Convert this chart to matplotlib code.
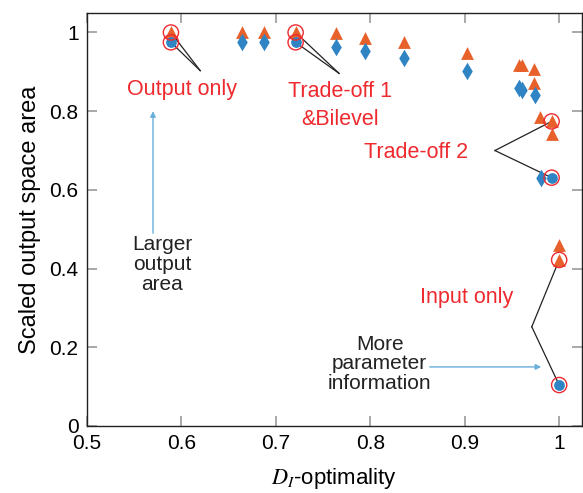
import matplotlib
matplotlib.use("Agg")
import matplotlib.pyplot as plt

plt.rcParams['font.family'] = ['Liberation Sans', 'DejaVu Sans']
plt.rcParams['mathtext.fontset'] = 'stix'

# output area for each design (triangles) and the second metric (diamonds)
tri_x = [0.589, 0.664, 0.688, 0.721, 0.764, 0.794, 0.836, 0.902, 0.957, 0.961,
         0.973, 0.973, 0.980, 0.992, 0.992, 1.000, 1.000]
tri_y = [1.000, 1.000, 1.000, 1.000, 0.998, 0.985, 0.975, 0.949, 0.918, 0.918,
         0.908, 0.872, 0.786, 0.774, 0.743, 0.460, 0.422]
dia_x = [0.664, 0.688, 0.764, 0.794, 0.836, 0.902, 0.957, 0.961, 0.974, 0.981]
dia_y = [0.975, 0.975, 0.962, 0.954, 0.934, 0.901, 0.860, 0.855, 0.842, 0.631]

# highlighted designs
hl_tri_x = [0.589, 0.721, 0.992, 1.000]
hl_tri_y = [1.000, 1.000, 0.774, 0.422]
hl_dot_x = [0.589, 0.721, 0.992, 1.000]
hl_dot_y = [0.975, 0.975, 0.631, 0.104]

orange = '#e8602a'
blue = '#2f84c4'
red = '#ee2a2f'
lightblue = '#6aaedc'

fig = plt.figure(figsize=(5.83, 4.93), dpi=100)
ax = fig.add_axes([0.149, 0.136, 0.849, 0.838])

ax.scatter(tri_x, tri_y, marker='^', s=85, color=orange, zorder=3, linewidths=0)
ax.scatter(dia_x, dia_y, marker='d', s=80, color=blue, zorder=3, linewidths=0)
ax.scatter(hl_tri_x, hl_tri_y, marker='^', s=55, color=orange, zorder=3, linewidths=0)
ax.scatter(hl_dot_x, hl_dot_y, marker='o', s=60, color=blue, zorder=3, linewidths=0)
ax.scatter(hl_tri_x + hl_dot_x, hl_tri_y + hl_dot_y, marker='o', s=120,
           facecolors='none', edgecolors=red, linewidths=1.0, zorder=4)

# leader lines from labels to highlighted points
def leader(x0, y0, pts):
    for px, py in pts:
        ax.plot([x0, px], [y0, py], color='#222222', lw=0.9, zorder=2)

leader(0.620, 0.903, [(hl_tri_x[0], hl_tri_y[0]), (hl_dot_x[0], hl_dot_y[0])])
leader(0.767, 0.896, [(hl_tri_x[1], hl_tri_y[1]), (hl_dot_x[1], hl_dot_y[1])])
leader(0.932, 0.700, [(hl_tri_x[2], hl_tri_y[2]), (hl_dot_x[2], hl_dot_y[2])])
leader(0.971, 0.252, [(hl_tri_x[3], hl_tri_y[3]), (hl_dot_x[3], hl_dot_y[3])])

fs = 15
ax.text(0.601, 0.855, 'Output only', color=red, fontsize=fs + 0.5, ha='center', va='center')
ax.text(0.768, 0.850, 'Trade-off 1', color=red, fontsize=fs + 0.5, ha='center', va='center')
ax.text(0.768, 0.780, '&Bilevel', color=red, fontsize=fs + 0.5, ha='center', va='center')
ax.text(0.849, 0.695, 'Trade-off 2', color=red, fontsize=fs + 0.5, ha='center', va='center')
ax.text(0.902, 0.327, 'Input only', color=red, fontsize=fs + 0.5, ha='center', va='center')

ax.text(0.580, 0.410, 'Larger\noutput\narea', color='#222222', fontsize=fs,
        ha='center', va='center', linespacing=1.05)
ax.text(0.810, 0.158, 'More\nparameter\ninformation', color='#222222', fontsize=fs,
        ha='center', va='center', linespacing=1.05)

ax.annotate('', xy=(0.570, 0.800), xytext=(0.570, 0.490),
            arrowprops=dict(arrowstyle='-|>', color=lightblue, lw=1.0,
                            mutation_scale=8, shrinkA=0, shrinkB=0))
ax.annotate('', xy=(0.981, 0.150), xytext=(0.863, 0.150),
            arrowprops=dict(arrowstyle='-|>', color=lightblue, lw=1.0,
                            mutation_scale=8, shrinkA=0, shrinkB=0))

ax.set_xlim(0.5, 1.024)
ax.set_ylim(0, 1.05)
ax.set_xticks([0.5, 0.6, 0.7, 0.8, 0.9, 1.0])
ax.set_xticklabels(['0.5', '0.6', '0.7', '0.8', '0.9', '1'])
ax.set_yticks([0, 0.2, 0.4, 0.6, 0.8, 1.0])
ax.set_yticklabels(['0', '0.2', '0.4', '0.6', '0.8', '1'])
ax.tick_params(direction='in', length=7, width=1.2, color='#999999',
               labelsize=fs, top=True, right=True, pad=6)
for side in ax.spines.values():
    side.set_linewidth(1.0)
    side.set_color('#222222')

ax.set_xlabel('$D_I$-optimality', fontsize=fs + 1, labelpad=9)
ax.set_ylabel('Scaled output space area', fontsize=fs + 2, labelpad=6)

fig.savefig('out.png', dpi=100)
